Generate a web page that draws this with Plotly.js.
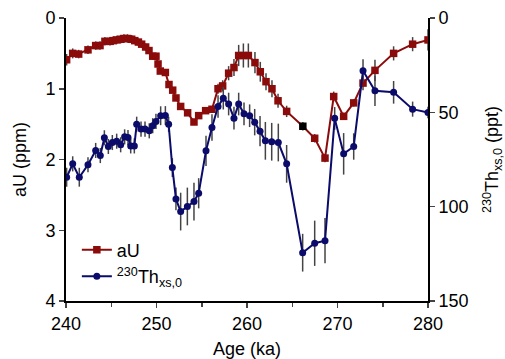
<!DOCTYPE html>
<html><head><meta charset="utf-8">
<script src="https://cdn.plot.ly/plotly-3.0.1.min.js"></script>
<style>html,body{margin:0;padding:0;background:#fff}#chart{width:505px;height:359px}</style>
</head><body><div id="chart"></div>
<script>
// aU (ppm), left axis (reversed)
const aUAge = [240.07,240.74,241.4,242.43,243.28,243.76,244.3,244.86,245.2,245.6,246.04,246.4,246.8,247.26,247.6,248.0,248.36,248.8,249.17,249.58,249.94,250.17,250.42,250.98,251.38,251.79,252.15,252.67,253.44,254.14,254.66,255.43,256.13,256.8,257.31,257.97,258.56,259.08,259.6,260.15,260.88,261.47,262.1,262.76,263.43,264.38,266.17,267.48,268.62,269.58,270.68,271.79,272.82,274.14,276.2,278.3,280.0];
const aUVal = [0.59,0.50,0.51,0.45,0.39,0.39,0.33,0.33,0.32,0.31,0.30,0.29,0.29,0.30,0.32,0.34,0.37,0.41,0.46,0.54,0.54,0.65,0.75,0.77,0.94,1.02,1.13,1.25,1.34,1.47,1.38,1.31,1.29,1.00,0.96,0.78,0.70,0.53,0.53,0.53,0.63,0.76,0.90,1.00,1.17,1.32,1.53,1.70,1.98,1.11,1.39,1.20,0.92,0.74,0.50,0.37,0.31];
const aUErr = [0.08,0.07,0.06,0.06,0.06,0.06,0.06,0.06,0.06,0.06,0.06,0.06,0.06,0.06,0.05,0.05,0.05,0.05,0.05,0.04,0.04,0.04,0.04,0.04,0.04,0.04,0.04,0.04,0.04,0.04,0.04,0.04,0.04,0.07,0.08,0.1,0.12,0.15,0.17,0.17,0.15,0.14,0.12,0.12,0.1,0.08,0.06,0.06,0.06,0.07,0.05,0.05,0.1,0.15,0.1,0.1,0.15];
const aUHighlightAge = 266.17;

// 230Th xs,0 (ppt), right axis (reversed)
const thAge = [240.07,240.74,241.47,242.43,243.28,243.79,244.24,244.68,245.12,245.6,246.04,246.48,246.85,247.15,247.55,247.81,248.29,248.73,249.2,249.58,249.94,250.46,250.98,251.34,251.75,252.15,252.67,253.41,254.14,254.66,255.47,256.13,256.8,257.38,257.97,258.56,259.08,259.67,260.29,260.85,261.44,262.03,262.73,263.46,264.38,266.15,267.48,268.62,269.69,270.68,271.79,272.82,274.14,276.2,278.3,280.0];
const thVal = [84.4,77.3,84.4,77.8,70.2,72.9,63.5,68.1,66.0,65.3,67.2,63.0,63.3,67.8,67.8,56.3,58.9,58.9,59.8,57.1,54.8,51.8,51.7,56.3,79.3,95.9,102.6,99.9,97.3,92.9,70.4,58.0,46.9,42.5,45.6,53.1,45.6,50.8,51.8,55.2,60.0,65.1,65.6,66.0,77.3,124.4,119.4,118.0,53.2,72.0,68.1,27.9,38.6,39.4,48.3,50.1];
const thErr = [5,4,5,4,4,4,4,4,4,4,4,4,4,4,4,4,4,4,4,4,4,5,5,4,5,6,10,10,10,8,8,7,6,6,6,6,6,6,6,7,8,10,10,10,10,10,12,12,6,11,7,6,8,6,4,3];

const aUColor = '#8b0b0b', thColor = '#0b0b6b';
const aUMarkerColors = aUAge.map(a => a === aUHighlightAge ? '#000000' : aUColor);

const traces = [
  {x: aUAge, y: aUVal, name: 'aU', type: 'scatter', mode: 'lines+markers',
   line: {color: aUColor, width: 2}, marker: {symbol: 'square', size: 7.5, color: aUMarkerColors},
   error_y: {type: 'data', array: aUErr, visible: true, color: '#444', thickness: 1.5, width: 0}},
  {x: thAge, y: thVal, name: '<sup>230</sup>Th<sub>xs,0</sub>', type: 'scatter', mode: 'lines+markers', yaxis: 'y2',
   line: {color: thColor, width: 2}, marker: {symbol: 'circle', size: 7, color: thColor},
   error_y: {type: 'data', array: thErr, visible: true, color: '#444', thickness: 1.5, width: 0}}
];

const fnt = {family: 'Liberation Sans, Arial, sans-serif', size: 18, color: '#000'};
const layout = {
  width: 505, height: 359,
  margin: {l: 66, r: 77, t: 18, b: 58},
  paper_bgcolor: '#fff', plot_bgcolor: '#fff',
  font: fnt,
  showlegend: true,
  legend: {x: 0.03, y: 0.245, xanchor: 'left', yanchor: 'top', bgcolor: 'rgba(0,0,0,0)', font: fnt},
  xaxis: {range: [240, 280], dtick: 10, tick0: 240, ticks: 'outside', ticklen: 5, tickwidth: 1.5,
          showline: true, linecolor: '#000', linewidth: 2, showgrid: false, zeroline: false,
          minor: {dtick: 5, tick0: 240, ticks: 'outside', ticklen: 4, tickwidth: 1.5, showgrid: false},
          title: {text: 'Age (ka)', font: fnt, standoff: 13}, tickfont: fnt},
  yaxis: {range: [4, 0], dtick: 1, ticks: 'outside', ticklen: 5, tickwidth: 1.5,
          showline: true, linecolor: '#000', linewidth: 2, showgrid: false, zeroline: false,
          title: {text: 'aU (ppm)', font: fnt, standoff: 14}, tickfont: fnt},
  yaxis2: {range: [150, 0], dtick: 50, overlaying: 'y', side: 'right', ticks: 'outside', ticklen: 5, tickwidth: 1.5,
           showline: true, linecolor: '#000', linewidth: 2, showgrid: false, zeroline: false,
           title: {text: '<sup>230</sup>Th<sub>xs,0</sub> (ppt)', font: fnt, standoff: 30}, tickfont: fnt}
};
Plotly.newPlot('chart', traces, layout, {displayModeBar: false, staticPlot: true});
</script></body></html>
